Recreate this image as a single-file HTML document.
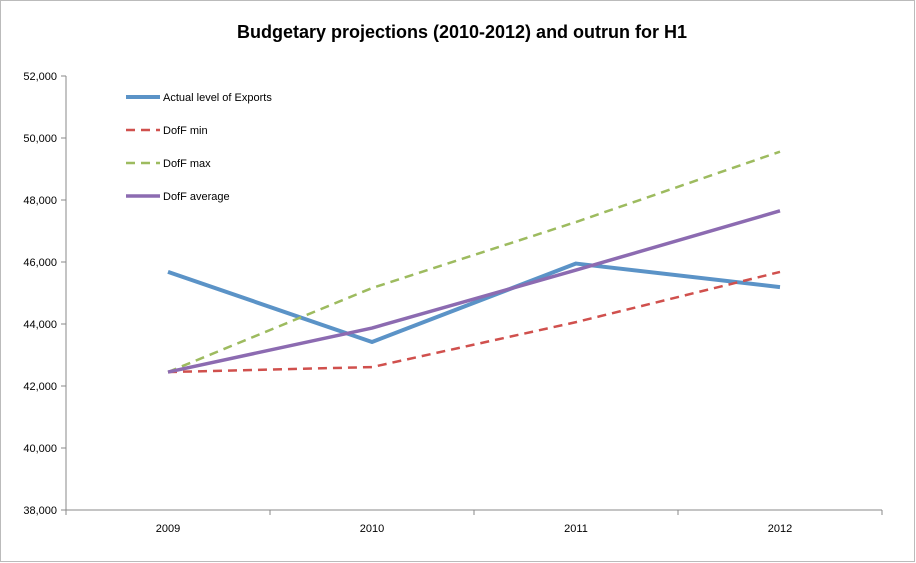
<!DOCTYPE html>
<html><head><meta charset="utf-8"><style>
body{margin:0;background:#fff;}
svg{display:block;font-family:"Liberation Sans",sans-serif;}
</style></head><body>
<svg id="chart" width="916" height="563">
<rect x="0.5" y="0.5" width="914" height="561" fill="#fff" stroke="#bbb"/>
<text x="462" y="38" text-anchor="middle" font-size="18" font-weight="bold">Budgetary projections (2010-2012) and outrun for H1</text>
<g id="axes"></g><g id="series"></g><g id="legend"></g>
</svg>
<script>
const categories=["2009","2010","2011","2012"];
const actualExports=[45680,43420,45950,45190];
const doffMin=[42450,42610,44060,45680];
const doffMax=[42450,45160,47290,49560];
const doffAvg=[42450,43870,45740,47650];
const yTicks=[38000,40000,42000,44000,46000,48000,50000,52000];
const seriesNames=["Actual level of Exports","DofF min","DofF max","DofF average"];

const NS="http://www.w3.org/2000/svg";
const X0=66,X1=882,Y0=510,Y1=76,YMIN=38000,YMAX=52000;
const band=(X1-X0)/categories.length;
const xPos=i=>X0+band*(i+0.5);
const yPos=v=>Y0-(v-YMIN)/(YMAX-YMIN)*(Y0-Y1);
function mk(t,a,p){const e=document.createElementNS(NS,t);for(const k in a)e.setAttribute(k,a[k]);p.appendChild(e);return e;}
const axes=document.getElementById('axes');
const yl=mk('line',{x1:X0,y1:Y1,x2:X0,y2:Y0,stroke:'#888'},axes);


const xl=mk('line',{x1:X0,y1:Y0,x2:X1,y2:Y0,stroke:'#888'},axes);


yTicks.forEach(v=>{
 const y=yPos(v);
 const tk=mk('line',{x1:X0-5,y1:y,x2:X0,y2:y,stroke:'#888'},axes);
 
 
 const t=mk('text',{x:X0-9,y:y+4,'text-anchor':'end','font-size':11},axes);
 t.textContent=v.toLocaleString('en-US');
 
 
});
for(let i=0;i<=categories.length;i++){
 const x=X0+band*i;
 const tk=mk('line',{x1:x,y1:Y0,x2:x,y2:Y0+5,stroke:'#888'},axes);
 
 
}
categories.forEach((c,i)=>{
 const t=mk('text',{x:xPos(i),y:Y0+22,'text-anchor':'middle','font-size':11},axes);
 t.textContent=c;
 
 
});
const styles=[
 {d:actualExports,c:'#5b93c7',w:4,dash:''},
 {d:doffMin,c:'#d0504d',w:2.5,dash:'9,6'},
 {d:doffMax,c:'#9dbb5f',w:2.5,dash:'9,6'},
 {d:doffAvg,c:'#8c6bb1',w:3.5,dash:''}];
const sg=document.getElementById('series'),lg=document.getElementById('legend');
styles.forEach((s,k)=>{
 const p=mk('polyline',{points:s.d.map((v,i)=>xPos(i)+','+yPos(v)).join(' '),fill:'none',stroke:s.c,'stroke-width':s.w,'stroke-dasharray':s.dash,'stroke-linejoin':'round'},sg);
 
 
 const ly=97+k*33;
 const g=mk('g',{},lg);
 
 
 mk('line',{x1:126,y1:ly,x2:160,y2:ly,stroke:s.c,'stroke-width':s.w,'stroke-dasharray':s.dash},g);
 const t=mk('text',{x:163,y:ly+4,'font-size':11},g);
 t.textContent=seriesNames[k];
});
</script>
</body></html>
